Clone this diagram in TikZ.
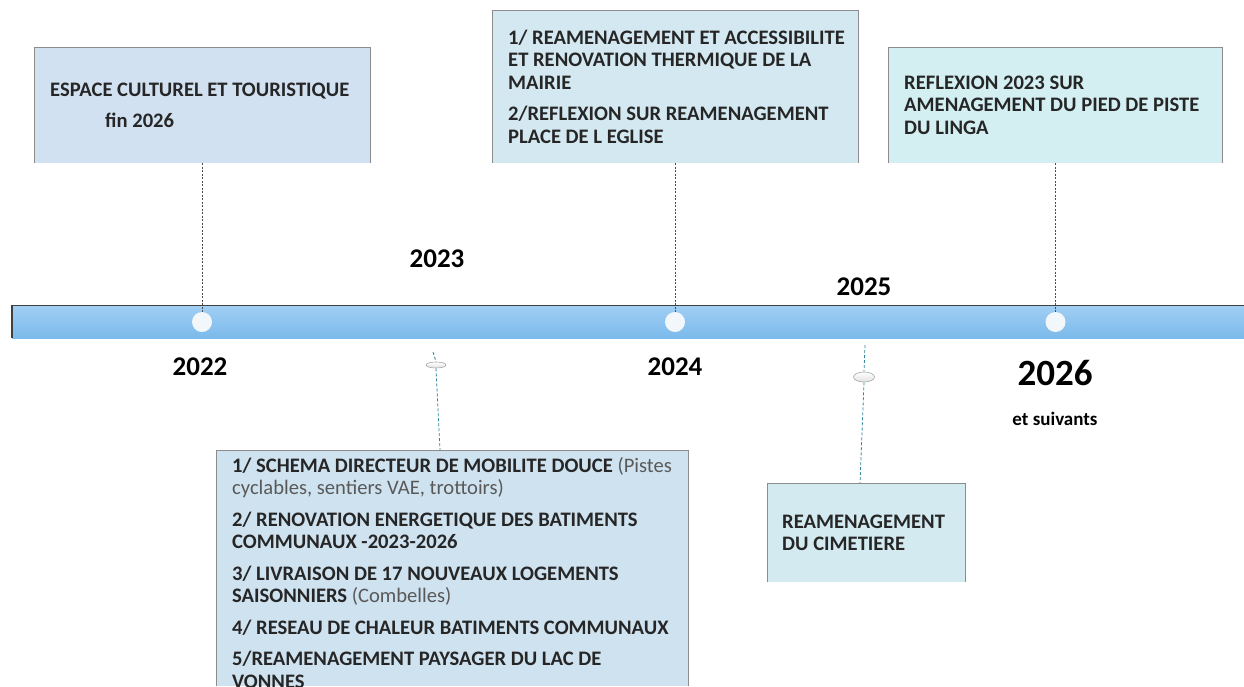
\documentclass[tikz,border=0pt]{standalone}
\usepackage{fontspec}
\setmainfont{Carlito}
\usetikzlibrary{shapes.geometric}
\definecolor{txt}{HTML}{262626}
\definecolor{ptxt}{HTML}{595959}
\definecolor{fillA}{HTML}{D2E1F1}
\definecolor{fillB}{HTML}{D3E8F1}
\definecolor{fillC}{HTML}{D3EFF2}
\definecolor{fillD}{HTML}{CFE2F0}
\definecolor{fillE}{HTML}{D3EAF1}
\definecolor{edge}{HTML}{8C8C8C}
\definecolor{barTop}{HTML}{A0CEF4}
\definecolor{barBot}{HTML}{7BBAEB}
\definecolor{teal}{HTML}{31849B}
\definecolor{dotfill}{HTML}{F2F7FC}
\tikzset{
  box/.style={draw=none, inner sep=0pt, outer sep=0pt},
  boxtext/.style={anchor=base west, align=left, inner sep=0pt, text=txt,
    font=\fontsize{20.6}{22.5}\selectfont\bfseries},
  year/.style={font=\fontsize{27}{30}\selectfont\bfseries, text=black, inner sep=0pt},
  dot/.style={circle, fill=dotfill, minimum size=20pt, inner sep=0pt},
  upline/.style={draw=black!70, dashed, dash pattern=on 2pt off 1.5pt, line width=0.6pt},
  lowline/.style={draw=teal, dashed, dash pattern=on 3pt off 2pt, line width=0.8pt},
  pin/.style={ellipse, draw=black!35, line width=0.6pt, top color=white, bottom color=black!12, inner sep=0pt},
  rim/.style={draw=edge, line width=0.8pt}
}
\begin{document}
\begin{tikzpicture}[x=1pt,y=-1pt]
\useasboundingbox (0,0) rectangle (1244,686);
% timeline bar
\shade[top color=barTop, bottom color=barBot] (12,306) rectangle (1244,338);
\draw[black!75, line width=1.2pt] (12,338) -- (12,305.6) -- (1244,305.6);
\node[dot] (c22) at (202,322) {};
\node[dot] (c24) at (675,322) {};
\node[dot] (c26) at (1055.5,322) {};
% years
\node[year] (y22) at (200,367) {2022};
\node[year] (y23) at (437,259) {2023};
\node[year] (y24) at (675,367) {2024};
\node[year] (y25) at (864,287) {2025};
\node[font=\fontsize{37}{40}\selectfont\bfseries, inner sep=0pt] (y26) at (1055,373) {2026};
\node[font=\fontsize{19}{22}\selectfont\bfseries, inner sep=0pt] (suiv) at (1055,419) {et suivants};
% boxes
\node[box, fill=fillA, minimum width=336pt, minimum height=116pt] (bA) at (202,105) {};
\draw[rim] (bA.south west) -- (bA.north west) -- (bA.north east) -- (bA.south east);
\node[boxtext] (tA) at (50,127.5) {ESPACE CULTUREL ET TOURISTIQUE\\[9pt]\hspace*{55pt}fin 2026};

\node[box, fill=fillB, minimum width=366pt, minimum height=153pt] (bB) at (675,86.5) {};
\draw[rim] (bB.south west) -- (bB.north west) -- (bB.north east) -- (bB.south east);
\node[boxtext] (tB) at (508,143) {1/ REAMENAGEMENT ET ACCESSIBILITE\\ET RENOVATION THERMIQUE DE LA\\MAIRIE\\[9pt]2/REFLEXION SUR REAMENAGEMENT\\PLACE DE L EGLISE};

\node[box, fill=fillC, minimum width=334pt, minimum height=116pt] (bC) at (1055.5,105) {};
\draw[rim] (bC.south west) -- (bC.north west) -- (bC.north east) -- (bC.south east);
\node[boxtext] (tC) at (904,134) {REFLEXION 2023 SUR\\AMENAGEMENT DU PIED DE PISTE\\DU LINGA};

\node[box, fill=fillD, minimum width=472pt, minimum height=236pt] (bD) at (452,568) {};
\draw[rim] (bD.south west) -- (bD.north west) -- (bD.north east) -- (bD.south east);
\node[boxtext] (tD) at (232,688) {1/ SCHEMA DIRECTEUR DE MOBILITE DOUCE {\mdseries\color{ptxt}(Pistes}\\{\mdseries\color{ptxt}cyclables, sentiers VAE, trottoirs)}\\[9pt]2/ RENOVATION ENERGETIQUE DES BATIMENTS\\COMMUNAUX -2023-2026\\[9pt]3/ LIVRAISON DE 17 NOUVEAUX LOGEMENTS\\SAISONNIERS {\mdseries\color{ptxt}(Combelles)}\\[9pt]4/ RESEAU DE CHALEUR BATIMENTS COMMUNAUX\\[9pt]5/REAMENAGEMENT PAYSAGER DU LAC DE\\VONNES};

\node[box, fill=fillE, minimum width=198pt, minimum height=99pt] (bE) at (866,532.5) {};
\draw[rim] (bE.south west) -- (bE.north west) -- (bE.north east) -- (bE.south east);
\node[boxtext] (tE) at (782,550.5) {REAMENAGEMENT\\DU CIMETIERE};
% upper connectors
\draw[upline] (bA.south) -- (c22.north);
\draw[upline] (bB.south) -- (c24.north);
\draw[upline] (bC.south) -- (c26.north);
% lower connectors with pins
\coordinate (dTop) at (433,352);
\coordinate (dIn) at (440,450);
\node[pin, minimum width=20pt, minimum height=6pt] (pD) at (436,365) {};
\draw[lowline] (dTop) -- (pD.north);
\draw[lowline] (pD.south) -- (dIn);
\coordinate (eTop) at (865,345);
\coordinate (eIn) at (860,483);
\node[pin, minimum width=21pt, minimum height=10pt] (pE) at (864,377) {};
\draw[lowline] (eTop) -- (pE.north);
\draw[lowline] (pE.south) -- (eIn);
\end{tikzpicture}
\end{document}
